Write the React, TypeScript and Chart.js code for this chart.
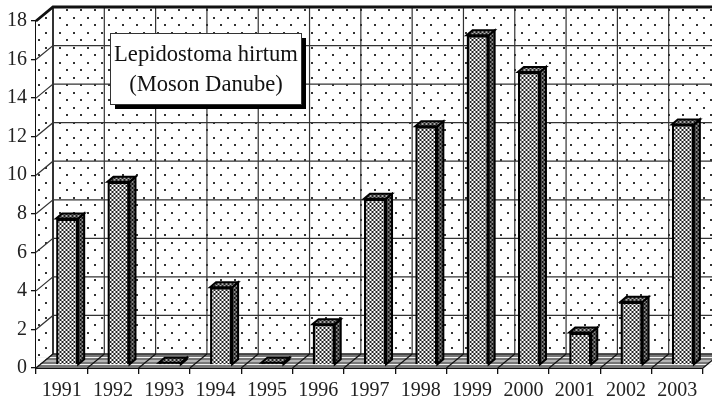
import React, { useEffect, useRef } from "react";
import { Chart, registerables } from "chart.js";

Chart.register(...registerables);

const years = ["1991","1992","1993","1994","1995","1996","1997","1998","1999","2000","2001","2002","2003"];
const values = [7.6, 9.5, 0.12, 4.03, 0.12, 2.12, 8.62, 12.38, 17.1, 15.2, 1.68, 3.28, 12.48];
const titleLines = ["Lepidostoma hirtum", "(Moson Danube)"];

const FONT = '"Liberation Serif", serif';
const DX = 17, DY = -14;
const BAR_DX = 5.5, BAR_DY = -3;
const SIDE_X = 6, SIDE_Y = -5;

function tile(w: number, h: number, draw: (c: CanvasRenderingContext2D) => void) {
  const cv = document.createElement("canvas");
  cv.width = w; cv.height = h;
  const c = cv.getContext("2d")!;
  draw(c);
  return cv;
}

function dotTile() {
  return tile(14, 15, (c) => {
    c.fillStyle = "#fff"; c.fillRect(0, 0, 14, 15);
    c.fillStyle = "#333";
    c.fillRect(3, 2, 2, 2);
    c.fillRect(10, 9, 2, 2);
  });
}
function checkTile(light: string, dark: string) {
  return tile(4, 4, (c) => {
    c.fillStyle = light; c.fillRect(0, 0, 4, 4);
    c.fillStyle = dark;
    c.fillRect(0, 0, 2, 2);
    c.fillRect(2, 2, 2, 2);
  });
}

const wall3d = {
  id: "wall3d",
  beforeDatasetsDraw(chart: any) {
    const { ctx, chartArea: a, scales } = chart;
    const yS = scales.y;
    const step = (a.right - a.left) / years.length;
    const dots = ctx.createPattern(dotTile(), "repeat")!;
    ctx.save();
    ctx.fillStyle = dots;
    ctx.beginPath();
    ctx.moveTo(a.left, a.top);
    ctx.lineTo(a.left + DX, a.top + DY);
    ctx.lineTo(712, a.top + DY);
    ctx.lineTo(712, a.bottom + DY);
    ctx.lineTo(a.left, a.bottom);
    ctx.closePath();
    ctx.fill();

    ctx.strokeStyle = "#333";
    ctx.lineWidth = 1.2;
    yS.ticks.forEach((t: any) => {
      const y = yS.getPixelForValue(t.value);
      ctx.beginPath();
      ctx.moveTo(a.left, y);
      ctx.lineTo(a.left + DX, y + DY);
      ctx.lineTo(712, y + DY);
      ctx.stroke();
    });
    for (let i = 0; i < years.length; i++) {
      const x = a.left + DX + step * i;
      ctx.beginPath();
      ctx.moveTo(x, a.top + DY);
      ctx.lineTo(x, a.bottom + DY);
      ctx.lineWidth = i === 0 ? 2 : 1.2;
      ctx.stroke();
    }
    ctx.lineWidth = 2.8;
    ctx.strokeStyle = "#111";
    ctx.beginPath();
    ctx.moveTo(a.left, a.top);
    ctx.lineTo(a.left + DX, a.top + DY);
    ctx.lineTo(712, a.top + DY);
    ctx.stroke();

    ctx.fillStyle = "#777";
    ctx.beginPath();
    ctx.moveTo(a.left, a.bottom);
    ctx.lineTo(a.right, a.bottom);
    ctx.lineTo(a.right + DX, a.bottom + DY);
    ctx.lineTo(a.left + DX, a.bottom + DY);
    ctx.closePath();
    ctx.fill();
    ctx.strokeStyle = "#f4f4f4";
    ctx.lineWidth = 1.2;
    [-3.5, -7, -10.5].forEach((off) => {
      ctx.beginPath();
      ctx.moveTo(a.left, a.bottom + off);
      ctx.lineTo(712, a.bottom + off);
      ctx.stroke();
    });
    ctx.strokeStyle = "#111";
    ctx.lineWidth = 1.2;
    ctx.beginPath();
    ctx.moveTo(a.left + DX, a.bottom + DY);
    ctx.lineTo(712, a.bottom + DY);
    ctx.stroke();
    for (let i = 0; i <= years.length; i++) {
      const x = a.left + step * i;
      ctx.beginPath();
      ctx.moveTo(x, a.bottom);
      ctx.lineTo(x + DX, a.bottom + DY);
      ctx.stroke();
    }
    ctx.restore();
    ctx.save();
    ctx.translate(BAR_DX, BAR_DY);
  },
  afterDatasetsDraw(chart: any) {
    const { ctx } = chart;
    const sidePat = ctx.createPattern(checkTile("#888", "#111"), "repeat")!;
    const topPat = ctx.createPattern(checkTile("#aaa", "#222"), "repeat")!;
    ctx.strokeStyle = "#000";
    ctx.lineWidth = 2;
    ctx.lineJoin = "miter";
    chart.getDatasetMeta(0).data.forEach((b: any) => {
      const l = b.x - b.width / 2, r = b.x + b.width / 2;
      const t = b.y, base = b.base;
      ctx.fillStyle = sidePat;
      ctx.beginPath();
      ctx.moveTo(r, t); ctx.lineTo(r + SIDE_X, t + SIDE_Y);
      ctx.lineTo(r + SIDE_X, base + SIDE_Y); ctx.lineTo(r, base);
      ctx.closePath(); ctx.fill(); ctx.stroke();
      ctx.fillStyle = topPat;
      ctx.beginPath();
      ctx.moveTo(l, t); ctx.lineTo(l + SIDE_X, t + SIDE_Y);
      ctx.lineTo(r + SIDE_X, t + SIDE_Y); ctx.lineTo(r, t);
      ctx.closePath(); ctx.fill(); ctx.stroke();
    });
    ctx.restore();
  },
  afterDraw(chart: any) {
    const { ctx } = chart;
    ctx.save();
    ctx.fillStyle = "#000";
    ctx.fillRect(115, 38, 191, 71);
    ctx.fillStyle = "#fff";
    ctx.strokeStyle = "#333";
    ctx.lineWidth = 1;
    ctx.fillRect(110.5, 33.5, 191, 71);
    ctx.strokeRect(110.5, 33.5, 191, 71);
    ctx.fillStyle = "#111";
    ctx.font = `22.6px ${FONT}`;
    ctx.textAlign = "center";
    ctx.textBaseline = "alphabetic";
    ctx.fillText(titleLines[0], 206, 61);
    ctx.fillText(titleLines[1], 206, 91);
    ctx.restore();
  },
};

export default function App() {
  const ref = useRef<HTMLCanvasElement>(null);
  useEffect(() => {
    document.body.style.margin = "0";
    const canvas = ref.current!;
    const frontPat = canvas.getContext("2d")!.createPattern(checkTile("#fff", "#222"), "repeat")!;
    const chart = new Chart(canvas, {
      type: "bar",
      data: {
        labels: years,
        datasets: [{
          data: values,
          backgroundColor: frontPat,
          borderColor: "#000",
          borderWidth: 2.4,
          barPercentage: 0.43,
          categoryPercentage: 1,
          clip: false,
        } as any],
      },
      options: {
        animation: false,
        responsive: false,
        layout: { padding: { top: 21, right: 9, left: 0, bottom: 0 } },
        plugins: { legend: { display: false }, tooltip: { enabled: false }, title: { display: false } },
        scales: {
          x: {
            z: 1,
            afterFit: (s: any) => { s.height = 35; },
            grid: { drawOnChartArea: false, color: "#111", lineWidth: 1.3, tickLength: 6 },
            border: { color: "#111", width: 2 },
            ticks: { color: "#222", font: { family: FONT, size: 20 }, padding: 5, maxRotation: 0, autoSkip: false },
          },
          y: {
            z: 1,
            min: 0,
            max: 18,
            afterFit: (s: any) => { s.width = 36; },
            grid: { drawOnChartArea: false, color: "#111", lineWidth: 1.3, tickLength: 5 },
            border: { color: "#111", width: 2.4 },
            ticks: { stepSize: 2, color: "#222", font: { family: FONT, size: 20 }, padding: 4 },
          },
        },
      },
      plugins: [wall3d],
    } as any);
    return () => chart.destroy();
  }, []);
  return <canvas ref={ref} width={712} height={403} style={{ display: "block" }} />;
}
